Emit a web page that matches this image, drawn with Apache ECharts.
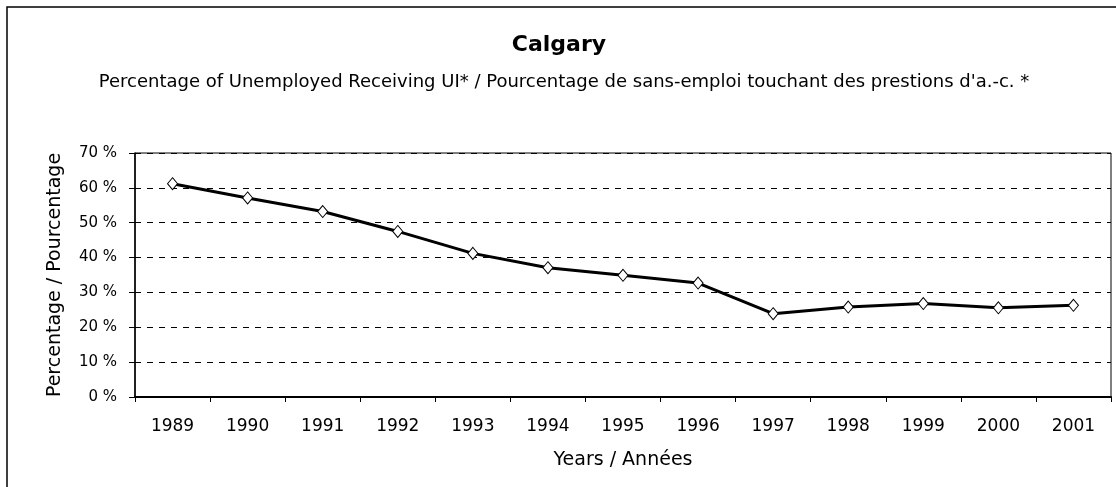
<!DOCTYPE html>
<html>
<head>
<meta charset="utf-8">
<script src="https://cdn.jsdelivr.net/npm/echarts@6/dist/echarts.min.js"></script>
<style>
  html, body { margin: 0; padding: 0; background: #fff; }
  #chart { width: 1116px; height: 487px; }
</style>
</head>
<body>
<div id="chart"></div>
<script>
// years on the x axis
const years = ['1989', '1990', '1991', '1992', '1993', '1994', '1995', '1996', '1997', '1998', '1999', '2000', '2001']
// percentage of unemployed receiving UI
const uiShare = [61.2, 57.1, 53.2, 47.5, 41.2, 37.1, 34.9, 32.7, 23.9, 25.8, 26.8, 25.6, 26.3]
const titleText = 'Calgary'
const subText = 'Percentage of Unemployed Receiving UI* / Pourcentage de sans-emploi touchant des prestions d\'a.-c. *'

const font = 'DejaVu Sans, Arial, sans-serif'
const chart = echarts.init(document.getElementById('chart'))

const option = {
    animation: false,
    backgroundColor: '#fff',
    title: [
        {
            text: titleText,
            left: 554,
            textAlign: 'center',
            top: 29,
            textStyle: { fontFamily: font, fontSize: 22, fontWeight: 'bold', color: '#000' }
        },
        {
            text: subText,
            left: 559,
            textAlign: 'center',
            top: 68,
            textStyle: { fontFamily: font, fontSize: 18, fontWeight: 'normal', color: '#000' }
        }
    ],
    // outer frame of the chart
    graphic: [
        {
            type: 'rect',
            shape: { x: 7, y: 7, width: 1130, height: 500 },
            style: { fill: 'none', stroke: '#000', lineWidth: 1.5 },
            silent: true
        }
    ],
    grid: {
        left: 135,
        top: 153,
        right: 5,
        bottom: 90,
        show: true,
        borderColor: '#000',
        borderWidth: 1
    },
    xAxis: {
        type: 'category',
        data: years,
        boundaryGap: true,
        name: 'Years / Années',
        nameLocation: 'middle',
        nameGap: 54,
        nameTextStyle: { fontFamily: font, fontSize: 19, color: '#000' },
        axisLine: { lineStyle: { color: '#000', width: 2 } },
        axisTick: { show: true, length: 5, lineStyle: { color: '#000' } },
        axisLabel: { fontFamily: font, fontSize: 17, color: '#000', margin: 21 }
    },
    yAxis: {
        type: 'value',
        min: 0,
        max: 70,
        interval: 10,
        name: 'Percentage / Pourcentage',
        nameLocation: 'middle',
        nameGap: 70,
        nameTextStyle: { fontFamily: font, fontSize: 19, color: '#000' },
        axisLine: { show: true, lineStyle: { color: '#000', width: 1.5 } },
        axisTick: { show: true, length: 6, lineStyle: { color: '#000' } },
        axisLabel: {
            fontFamily: font, fontSize: 15, color: '#000', margin: 18,
            formatter: v => v + ' %'
        },
        splitLine: { show: true, lineStyle: { color: '#000', type: [6, 6], width: 1 } }
    },
    series: [
        {
            type: 'line',
            data: uiShare,
            symbol: 'diamond',
            symbolSize: [10, 12],
            showAllSymbol: true,
            lineStyle: { color: '#000', width: 3 },
            itemStyle: { color: '#fff', borderColor: '#000', borderWidth: 1 }
        }
    ]
}
chart.setOption(option)
</script>
</body>
</html>
